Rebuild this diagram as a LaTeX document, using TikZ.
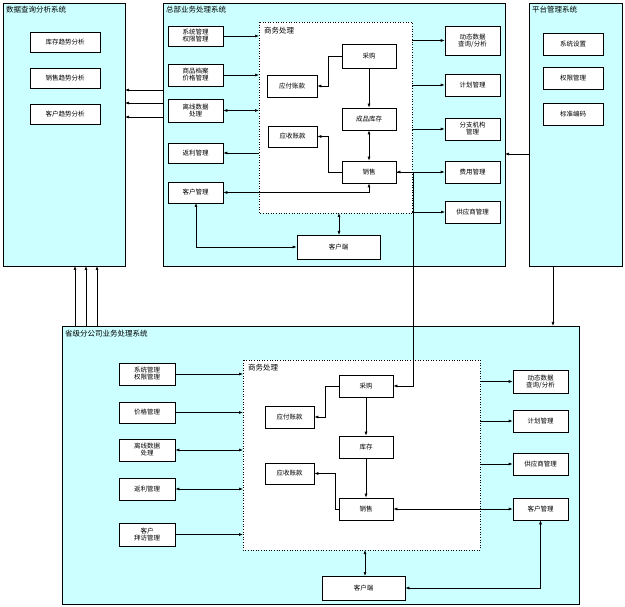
\documentclass[tikz,border=0pt]{standalone}
\usepackage{fontspec}
\setmainfont{Noto Sans CJK SC}
\usetikzlibrary{arrows.meta}
\definecolor{pan}{RGB}{204,255,255}
\begin{document}
\begin{tikzpicture}[x=1pt,y=-1pt,
  panel/.style={draw=black,fill=pan,line width=0.6pt},
  bx/.style={draw=black,fill=white,line width=0.6pt,font=\fontsize{6.5}{7}\selectfont,align=center},
  dbox/.style={draw=black,fill=white,dotted,line width=0.6pt},
  ttl/.style={anchor=north west,font=\fontsize{7.5}{8}\selectfont,inner sep=1pt},
  ar/.style={-{Latex[length=4pt,width=3pt]},line width=0.6pt},
  br/.style={{Latex[length=4pt,width=3pt]}-{Latex[length=4pt,width=3pt]},line width=0.6pt}]
\useasboundingbox (0,0) rectangle (625,607);
\fill[white] (0,0) rectangle (625,607);
\def\B#1#2#3#4#5#6{\node[bx,minimum width=#4-#2,minimum height=#5-#3,inner sep=0pt] (#1) at ({(#2+#4)/2},{(#3+#5)/2}) {#6};}
% panels
\draw[panel] (3,3) rectangle (125,266); \node[ttl] (tL) at (5,5) {数据查询分析系统};
\draw[panel] (163,3) rectangle (505,266); \node[ttl] (tM) at (165,5) {总部业务处理系统};
\draw[panel] (529,3) rectangle (622,266); \node[ttl] (tR) at (531,5) {平台管理系统};
\draw[panel] (62,326) rectangle (579,604); \node[ttl] (tB) at (64,329) {省级分公司业务处理系统};
% left panel
\B{l1}{30}{32}{100}{52}{库存趋势分析}
\B{l2}{30}{68}{100}{88}{销售趋势分析}
\B{l3}{30}{104}{100}{124}{客户趋势分析}
% right panel
\B{r1}{543}{33}{603}{55}{系统设置}
\B{r2}{543}{67}{603}{89}{权限管理}
\B{r3}{543}{103}{603}{125}{标准编码}
% top
\draw[dbox] (259,22) rectangle (412,213); \node[ttl] (d1t) at (263,26) {商务处理};
\B{a1}{168}{26}{223}{46}{系统管理\\权限管理}
\B{a2}{168}{64}{223}{86}{商品档案\\价格管理}
\B{a3}{168}{99}{223}{122}{离线数据\\处理}
\B{a4}{168}{143}{223}{163}{返利管理}
\B{a5}{168}{182}{223}{203}{客户管理}
\B{c1}{342}{44}{396}{68}{采购}
\B{c2}{267}{75}{317}{97}{应付账款}
\B{c3}{342}{108}{396}{130}{成品库存}
\B{c4}{268}{126}{317}{147}{应收账款}
\B{c5}{342}{161}{396}{183}{销售}
\B{e1}{445}{26}{500}{55}{动态数据\\查询/分析}
\B{e2}{445}{74}{500}{96}{计划管理}
\B{e3}{445}{118}{500}{140}{分支机构\\管理}
\B{e4}{445}{161}{500}{183}{费用管理}
\B{e5}{445}{201}{500}{223}{供应商管理}
\B{k1}{297}{235}{380}{259}{客户端}
\draw[ar] (a1.east) -- (259,36);
\draw[ar] (a2.east) -- (259,75);
\draw[br] (a3.east) -- (259,110.5);
\draw[ar] (259,153) -- (a4.east);
\draw[br] (a5.east) -- (369,192.5) -- (c5.south);
\draw[ar] (c1.west) -- (328,56) -- (328,86) -- (c2.east);
\draw[ar] (c1.south) -- (c3.north);
\draw[br] (c3.south) -- (c5.north);
\draw[ar] (c5.west) -- (328,172) -- (328,136.5) -- (c4.east);
\draw[ar] (412,40.5) -- (e1.west);
\draw[ar] (412,85) -- (e2.west);
\draw[ar] (412,129) -- (e3.west);
\draw[br] (c5.east) -- (e4.west);
\draw[ar] (412,212) -- (445,212);
\draw[br] (339,213) -- (339,235);
\draw[br] (196,203) -- (196,247) -- (k1.west);
% inter-panel
\draw[ar] (163,90) -- (125,90);
\draw[ar] (163,103) -- (125,103);
\draw[ar] (163,117) -- (125,117);
\draw[ar] (529,154) -- (505,154);
\draw[ar] (553,266) -- (553,326);
\draw[ar] (75,326) -- (75,266);
\draw[ar] (86,326) -- (86,266);
\draw[ar] (97,326) -- (97,266);
% bottom
\draw[dbox] (243,360) rectangle (480,550); \node[ttl] (d2t) at (247,363) {商务处理};
\B{b1}{119}{363}{175}{385}{系统管理\\权限管理}
\B{b2}{119}{402}{175}{423}{价格管理}
\B{b3}{119}{439}{175}{461}{离线数据\\处理}
\B{b4}{119}{478}{175}{500}{返利管理}
\B{b5}{119}{523}{175}{546}{客户\\拜访管理}
\B{f1}{339}{375}{393}{397}{采购}
\B{f2}{265}{406}{314}{428}{应付账款}
\B{f3}{339}{436}{393}{458}{库存}
\B{f4}{265}{463}{314}{484}{应收账款}
\B{f5}{339}{498}{393}{520}{销售}
\B{g1}{513}{370}{568}{393}{动态数据\\查询/分析}
\B{g2}{513}{410}{568}{432}{计划管理}
\B{g3}{513}{453}{568}{475}{供应商管理}
\B{g4}{513}{498}{568}{520}{客户管理}
\B{k2}{322}{576}{405}{600}{客户端}
\draw[ar] (c5.east) -- (413,172) -- (413,386) -- (f1.east);
\draw[ar] (b1.east) -- (243,374);
\draw[ar] (b2.east) -- (243,412.5);
\draw[br] (b3.east) -- (243,450);
\draw[br] (b4.east) -- (243,489);
\draw[ar] (b5.east) -- (243,534.5);
\draw[ar] (f1.west) -- (325,386) -- (325,417) -- (f2.east);
\draw[ar] (f1.south) -- (f3.north);
\draw[ar] (f3.south) -- (f5.north);
\draw[ar] (f5.west) -- (335,509) -- (335,473.5) -- (f4.east);
\draw[ar] (480,381.5) -- (g1.west);
\draw[ar] (480,421) -- (g2.west);
\draw[ar] (480,464) -- (g3.west);
\draw[br] (f5.east) -- (g4.west);
\draw[br] (365,550) -- (365,576);
\draw[br] (g4.south) -- (540.5,588) -- (k2.east);
\end{tikzpicture}
\end{document}
